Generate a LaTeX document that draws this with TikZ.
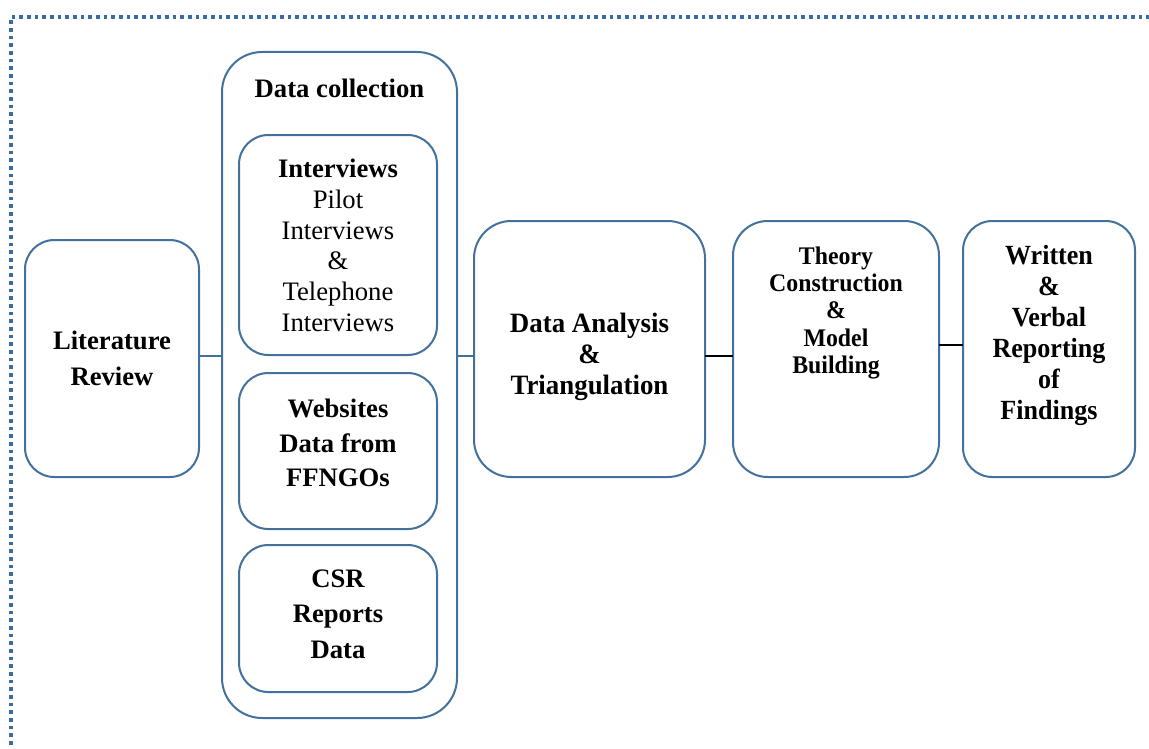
\documentclass[tikz,border=0pt]{standalone}
\usepackage{fontspec}
\setmainfont{Liberation Serif}
\newfontfamily\narrowserif{Liberation Serif}[FakeStretch=0.96]
\newfontfamily\tightserif{Liberation Serif}[FakeStretch=0.94]
\usetikzlibrary{calc}

\definecolor{boxblue}{HTML}{41719C}
\definecolor{frameblue}{HTML}{3A6BA5}

\tikzset{
  box/.style={draw=boxblue, line width=1.5pt, rectangle, inner sep=0pt, outer sep=0pt, fill=white},
  label/.style={align=center, inner sep=0pt, text=black},
  bluelink/.style={draw=boxblue, line width=1.5pt},
  blacklink/.style={draw=black, line width=1.5pt},
  frame/.style={draw=frameblue, line width=2.7pt, dash pattern=on 2.7pt off 3.05pt},
}

\begin{document}
\begin{tikzpicture}[x=0.75pt, y=-0.75pt]
  \useasboundingbox (0,0) rectangle (1149,749);

  % dotted outer frame (runs past the page on the right and bottom)
  \coordinate (frameBL) at (11,760);
  \coordinate (frameTL) at (11,17);
  \coordinate (frameTR) at (1160,17);
  \draw[frame] (frameBL) -- (frameTL) -- (frameTR);

  % boxes
  \node[box, rounded corners=22pt, minimum width=174*0.75pt, minimum height=237*0.75pt] (lit) at (112,358.5) {};
  \node[box, rounded corners=30pt, minimum width=235*0.75pt, minimum height=666*0.75pt] (dc) at (339.5,385) {};
  \node[box, rounded corners=22pt, minimum width=198*0.75pt, minimum height=220*0.75pt] (iv) at (338,245) {};
  \node[box, rounded corners=22pt, minimum width=198*0.75pt, minimum height=156*0.75pt] (web) at (338,451) {};
  \node[box, rounded corners=22pt, minimum width=198*0.75pt, minimum height=147*0.75pt] (csr) at (338,618.5) {};
  \node[box, rounded corners=28pt, minimum width=231*0.75pt, minimum height=256*0.75pt] (da) at (589.5,349) {};
  \node[box, rounded corners=26pt, minimum width=206*0.75pt, minimum height=256*0.75pt] (th) at (836,349) {};
  \node[box, rounded corners=22pt, minimum width=172*0.75pt, minimum height=256*0.75pt] (wr) at (1049,349) {};

  % texts
  \node[label, font=\fontsize{20pt}{24pt}\selectfont\bfseries] (dctitle) at (339.5,88) {Data collection};
  \node[label, font=\fontsize{20pt}{23pt}\selectfont] (ivtext) at (338,245.5)
    {\textbf{Interviews}\\Pilot\\Interviews\\\&\\Telephone\\Interviews};
  \node[label, font=\fontsize{20pt}{27pt}\selectfont\bfseries] (littext) at (112,358)
    {Literature\\Review};
  \node[label, font=\fontsize{20pt}{26pt}\selectfont\bfseries] (webtext) at (338,443)
    {Websites\\Data from\\FFNGOs};
  \node[label, font=\fontsize{20pt}{26.6pt}\selectfont\bfseries] (csrtext) at (338,614)
    {CSR\\Reports\\Data};
  \node[label, font=\narrowserif\fontsize{21pt}{23pt}\selectfont\bfseries] (datext) at (589.5,357)
    {Data Analysis\\\&\\Triangulation};
  \node[label, font=\tightserif\fontsize{19pt}{20.6pt}\selectfont\bfseries] (thtext) at (836,313)
    {Theory\\Construction\\\&\\Model\\Building};
  \node[label, font=\tightserif\fontsize{20.8pt}{23.25pt}\selectfont\bfseries] (wrtext) at (1049,335)
    {Written\\\&\\Verbal\\Reporting\\of\\Findings};

  % connectors
  \coordinate (row) at (0,356);
  \coordinate (wrow) at (0,345);
  \draw[bluelink] (lit.east |- row) -- (dc.west |- row);
  \draw[bluelink] (dc.east |- row) -- (da.west |- row);
  \draw[blacklink] (da.east |- row) -- (th.west |- row);
  \draw[blacklink] (th.east |- wrow) -- (wr.west |- wrow);
\end{tikzpicture}
\end{document}
